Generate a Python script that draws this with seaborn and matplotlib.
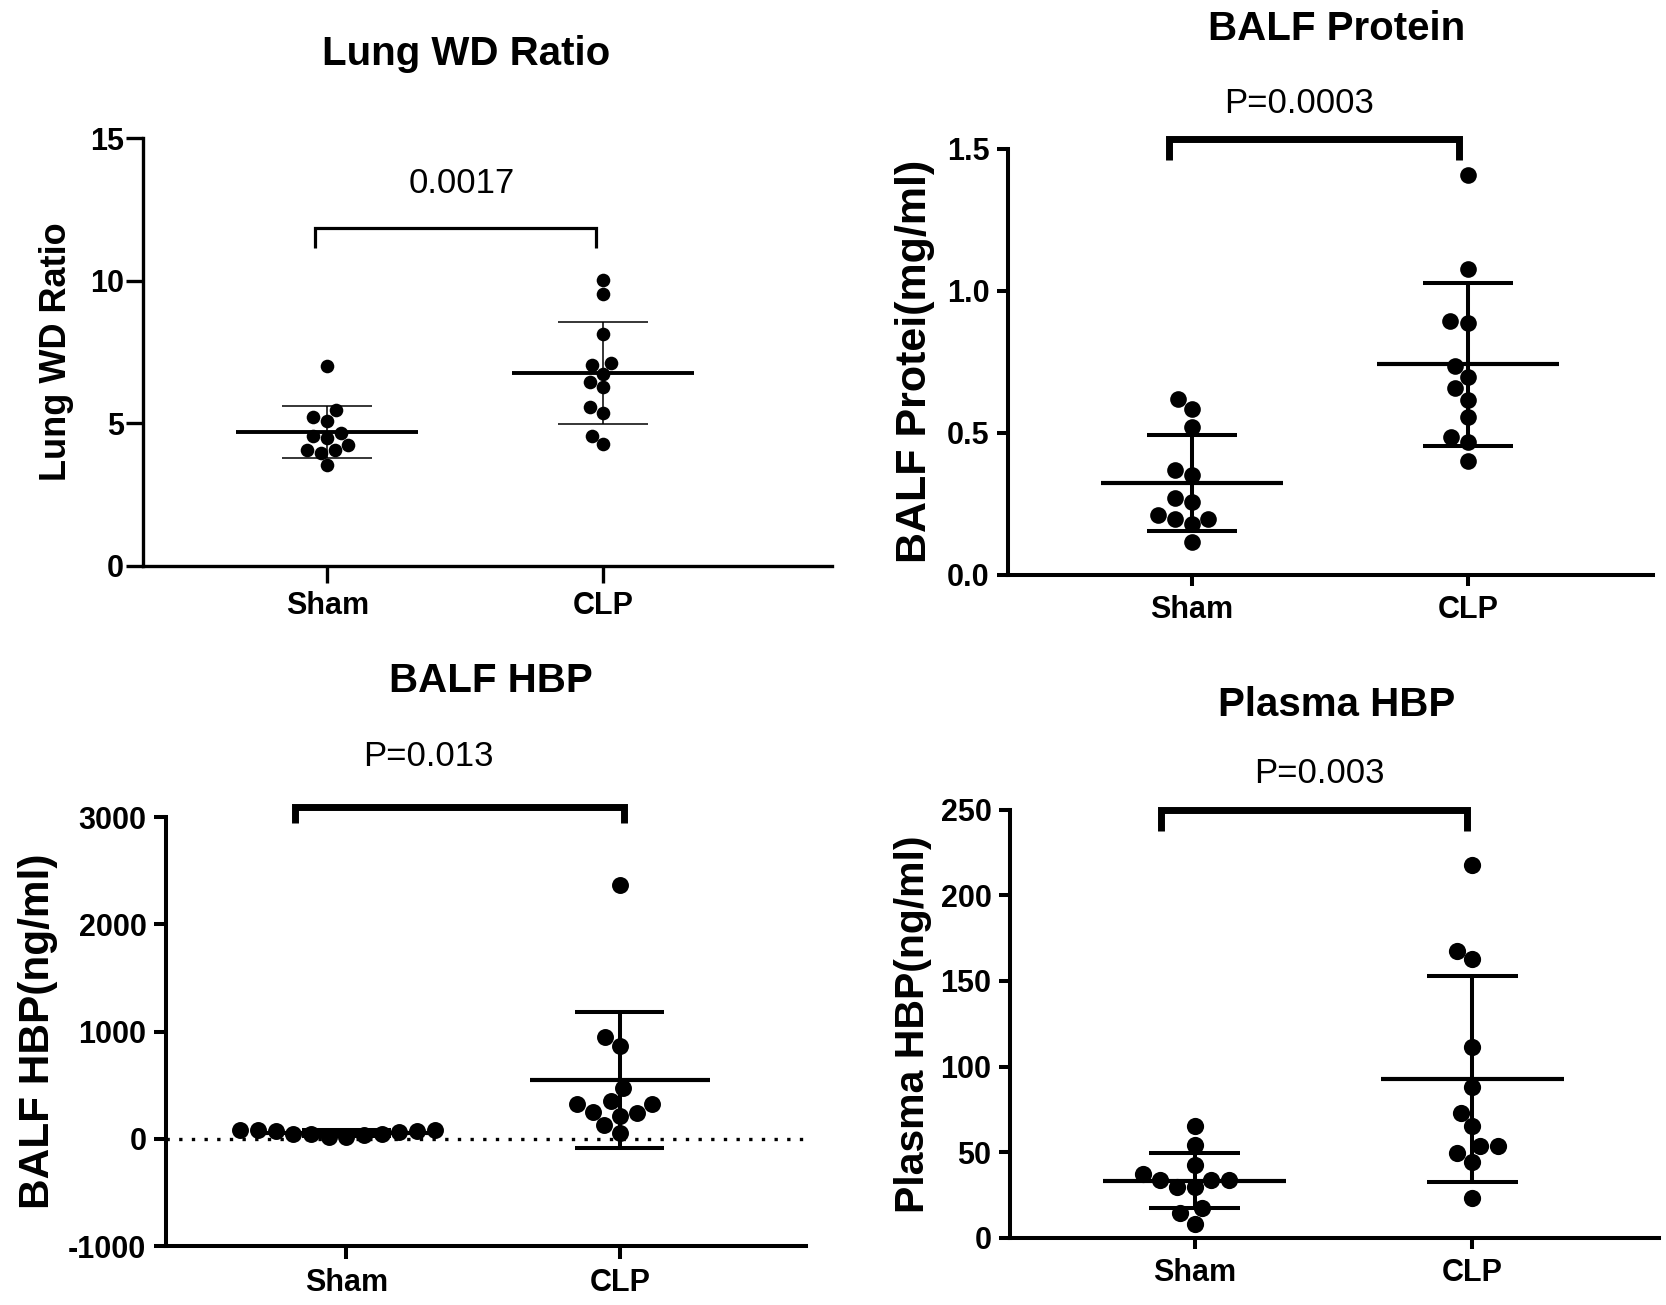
import numpy as np
import pandas as pd
import matplotlib
matplotlib.use("Agg")
import matplotlib.pyplot as plt
import seaborn as sns

# ------------------------------
# Data (one value per animal)
# ------------------------------
groups = ["Sham", "CLP"]

lung_sham = [7.00, 5.47, 5.09, 5.21, 4.65, 4.57, 4.48, 4.22, 4.07, 4.07, 3.95, 3.52]
lung_clp = [10.03, 9.55, 8.14, 7.13, 7.03, 6.74, 6.45, 6.26, 5.56, 5.36, 4.57, 4.26]

prot_sham = [0.62, 0.585, 0.52, 0.37, 0.35, 0.27, 0.257, 0.21, 0.198, 0.198, 0.178, 0.116]
prot_clp = [1.407, 1.077, 0.894, 0.888, 0.737, 0.697, 0.658, 0.617, 0.557, 0.487, 0.469, 0.40]

balf_hbp_sham = [42, 84, 77, 84, 14, 84, 31, 49, 21, 66, 77, 42]
balf_hbp_clp = [2366, 948, 864, 474, 328, 355, 328, 240, 251, 216, 125, 56]

plasma_sham = [65.3, 54.4, 42.5, 37.0, 33.5, 33.5, 33.5, 29.4, 29.4, 17.4, 14.2, 8.3]
plasma_clp = [217.8, 167.7, 162.7, 111.5, 88.2, 73.0, 65.3, 53.8, 53.4, 49.4, 44.2, 23.3]

titles = ["Lung WD Ratio", "BALF Protein", "BALF HBP", "Plasma HBP"]
ylabels = ["Lung WD Ratio", "BALF Protei(mg/ml)", "BALF HBP(ng/ml)", "Plasma HBP(ng/ml)"]
pvalues = ["0.0017", "P=0.0003", "P=0.013", "P=0.003"]
yticks = [[0, 5, 10, 15], [0.0, 0.5, 1.0, 1.5],
          [-1000, 0, 1000, 2000, 3000], [0, 50, 100, 150, 200, 250]]

sns.set_style("ticks")
plt.rcParams["font.family"] = ["Liberation Sans", "DejaVu Sans"]
plt.rcParams["font.weight"] = "bold"
plt.rcParams["axes.unicode_minus"] = False
plt.rcParams["text.color"] = "black"
plt.rcParams["axes.labelcolor"] = "black"
plt.rcParams["axes.edgecolor"] = "black"
plt.rcParams["xtick.color"] = "black"
plt.rcParams["ytick.color"] = "black"

fig = plt.figure(figsize=(16.66, 13.05), dpi=100)

# axes boxes [left, bottom, width, height]
boxes = [
    [0.086, 0.5665, 0.4135, 0.3275],
    [0.605, 0.5595, 0.387, 0.3265],
    [0.0996, 0.0452, 0.384, 0.3287],
    [0.606, 0.0515, 0.3895, 0.328],
]
xlims = [(-0.667, 1.83), (-0.667, 1.67), (-0.66, 1.68), (-0.666, 1.67)]
ylims = [(0, 15), (0, 1.5), (-1000, 3000), (0, 250)]
spine_w = [2.4, 2.9, 2.9, 2.9]
tick_len = [12, 8, 9, 8]
dot_size = [9.8, 12.0, 12.2, 12.4]
mean_w = [2.8, 3.0, 3.0, 3.0]
sd_w = [1.1, 2.9, 2.9, 2.9]
ylabel_size = [26, 31, 30.5, 29.5]
ylabel_x = [-0.10, -0.113, -0.168, -0.12]
# bracket: x0, x1, y tip, y top
brackets = [(-0.045, 0.973, 11.16, 11.84), (-0.083, 0.969, 1.46, 1.535),
            (-0.187, 1.015, 2941, 3091), (-0.12, 0.979, 237.8, 250)]
bracket_w = [2.3, 5.0, 5.0, 5.0]
ptext_pos = [(0.486, 13.4), (0.39, 1.66), (0.30, 3568), (0.448, 271)]
title_pos = [(0.280, 0.959), (0.802, 0.978), (0.2945, 0.478), (0.802, 0.460)]

datasets = [(lung_sham, lung_clp), (prot_sham, prot_clp),
            (balf_hbp_sham, balf_hbp_clp), (plasma_sham, plasma_clp)]

for k, (sham, clp) in enumerate(datasets):
    ax = fig.add_axes(boxes[k])
    df = pd.DataFrame({"group": ["Sham"] * len(sham) + ["CLP"] * len(clp),
                       "value": sham + clp})

    if k == 2:
        ax.axhline(0, color="black", lw=2.4, ls=(0, (1, 2.8)), zorder=1)

    sns.swarmplot(data=df, x="group", y="value", order=groups, color="black",
                  size=dot_size[k], linewidth=0, ax=ax, zorder=3)

    # mean and SD
    for i, g in enumerate(groups):
        v = df.loc[df["group"] == g, "value"]
        m, sd = v.mean(), v.std()
        ax.hlines(m, i - 0.33, i + 0.33, color="black", lw=mean_w[k], zorder=2)
        ax.vlines(i, m - sd, m + sd, color="black", lw=sd_w[k], zorder=2)
        ax.hlines([m - sd, m + sd], i - 0.163, i + 0.163, color="black",
                  lw=sd_w[k], zorder=2)

    ax.set_xlim(*xlims[k])
    ax.set_ylim(*ylims[k])
    ax.set_yticks(yticks[k])
    sns.despine(ax=ax)
    for s in ["left", "bottom"]:
        ax.spines[s].set_linewidth(spine_w[k])
    ax.tick_params(axis="both", width=spine_w[k], length=tick_len[k],
                   labelsize=22, color="black", labelcolor="black")
    ax.tick_params(axis="x", pad=6.5)
    ax.tick_params(axis="y", pad=2 if k == 0 else 5)
    ax.set_xlabel("")
    ax.set_ylabel(ylabels[k], fontsize=ylabel_size[k], fontweight="bold")
    ax.yaxis.set_label_coords(ylabel_x[k], 0.5)

    x0, x1, yt, yb = brackets[k]
    ax.plot([x0, x0, x1, x1], [yt, yb, yb, yt], color="black",
            lw=bracket_w[k], clip_on=False, solid_joinstyle="miter",
            solid_capstyle="butt", zorder=4)
    ax.text(ptext_pos[k][0], ptext_pos[k][1], pvalues[k], ha="center",
            va="center", fontsize=25, fontweight="normal", clip_on=False)

    fig.text(title_pos[k][0], title_pos[k][1], titles[k], ha="center",
             va="center", fontsize=29, fontweight="bold")

fig.savefig("out.png", dpi=100)
